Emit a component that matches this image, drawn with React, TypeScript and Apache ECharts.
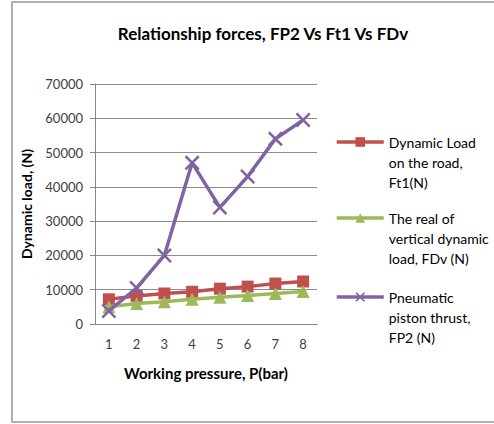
import React, { useEffect, useRef } from "react";
import * as echarts from "echarts";

const categories = ["1", "2", "3", "4", "5", "6", "7", "8"];
const dynamicLoadFt1 = [7200, 8200, 8900, 9400, 10300, 10900, 11800, 12400];
const verticalFDv = [5000, 6000, 6500, 7200, 7800, 8300, 8900, 9500];
const pistonFP2 = [3800, 10500, 20000, 47000, 34000, 43000, 54000, 59500];
const seriesNames = [
  "Dynamic Load on the road, Ft1(N)",
  "The real of vertical dynamic load, FDv (N)",
  "Pneumatic piston thrust, FP2 (N)",
];
const legendLines: Record<string, string> = {
  "Dynamic Load on the road, Ft1(N)": "Dynamic Load\non the road,\nFt1(N)",
  "The real of vertical dynamic load, FDv (N)": "The real of\nvertical dynamic\nload, FDv (N)",
  "Pneumatic piston thrust, FP2 (N)": "Pneumatic\npiston thrust,\nFP2 (N)",
};

const FONT = "Lato, 'Open Sans', sans-serif";
const xPath = "path://M0,1.2L1.2,0L5,3.8L8.8,0L10,1.2L6.2,5L10,8.8L8.8,10L5,6.2L1.2,10L0,8.8L3.8,5Z";

export default function App() {
  const ref = useRef<HTMLDivElement>(null);
  useEffect(() => {
    if (!ref.current) return;
    const chart = echarts.init(ref.current, undefined, { renderer: "svg" });
    const colors = ["#C0504D", "#9BBB59", "#8064A2"];
    const legendTops = [92, 168, 247];
    chart.setOption({
      animation: false,
      color: colors,
      title: {
        text: "Relationship forces, FP2 Vs Ft1 Vs FDv",
        left: 258,
        top: 20,
        textAlign: "center",
        textStyle: { fontFamily: FONT, fontSize: 17, fontWeight: "bold", color: "#000" },
      },
      graphic: [
        {
          type: "rect",
          shape: { x: 12, y: 2, width: 492, height: 420 },
          style: { fill: "none", stroke: "#b0b0b0", lineWidth: 2 },
          silent: true,
        },
      ],
      legend: seriesNames.map((n, i) => ({
        data: [n],
        left: 335,
        top: legendTops[i],
        padding: 0,
        orient: "vertical",
        itemWidth: 47,
        itemHeight: 12,
        itemGap: 0,
        selectedMode: false,
        lineStyle: { width: 3.5 },
        formatter: (name: string) => "\n\n" + legendLines[name],
        textStyle: {
          fontFamily: FONT,
          fontSize: 14,
          color: "#000",
          lineHeight: 20,
        },
      })),
      grid: { left: 95, top: 84, width: 222, height: 240, containLabel: false },
      xAxis: {
        type: "category",
        data: categories,
        boundaryGap: true,
        name: "Working pressure, P(bar)",
        nameLocation: "middle",
        nameGap: 41,
        nameTextStyle: { fontFamily: FONT, fontSize: 15, fontWeight: "bold", color: "#000" },
        axisLine: { lineStyle: { color: "#868686", width: 1 } },
        axisTick: { show: false },
        axisLabel: { fontFamily: FONT, fontSize: 13, color: "#404040", margin: 13 },
      },
      yAxis: {
        type: "value",
        min: 0,
        max: 70000,
        interval: 10000,
        name: "Dynamic load, (N)",
        nameLocation: "middle",
        nameGap: 62,
        nameTextStyle: { fontFamily: FONT, fontSize: 14, fontWeight: "bold", color: "#000" },
        axisLine: { show: true, lineStyle: { color: "#868686", width: 1 } },
        axisTick: { show: true, length: 5, lineStyle: { color: "#868686" } },
        splitLine: { lineStyle: { color: "#8c8c8c", width: 1 } },
        axisLabel: {
          fontFamily: FONT,
          fontSize: 13,
          color: "#404040",
          margin: 12,
          formatter: (v: number) => String(v),
        },
      },
      series: [
        {
          name: seriesNames[0],
          type: "line",
          data: dynamicLoadFt1,
          symbol: "rect",
          symbolSize: 12,
          lineStyle: { width: 3.5 },
          itemStyle: { color: colors[0] },
          z: 2,
        },
        {
          name: seriesNames[1],
          type: "line",
          data: verticalFDv,
          symbol: "triangle",
          symbolSize: 13,
          lineStyle: { width: 3.5 },
          itemStyle: { color: colors[1] },
          z: 3,
        },
        {
          name: seriesNames[2],
          type: "line",
          data: pistonFP2,
          symbol: xPath,
          symbolSize: 15,
          lineStyle: { width: 3.5 },
          itemStyle: { color: colors[2] },
          z: 4,
        },
      ],
    });
    return () => chart.dispose();
  }, []);
  return (
    <div
      ref={ref}
      style={{ position: "absolute", left: 0, top: 0, width: 494, height: 424 }}
    />
  );
}
